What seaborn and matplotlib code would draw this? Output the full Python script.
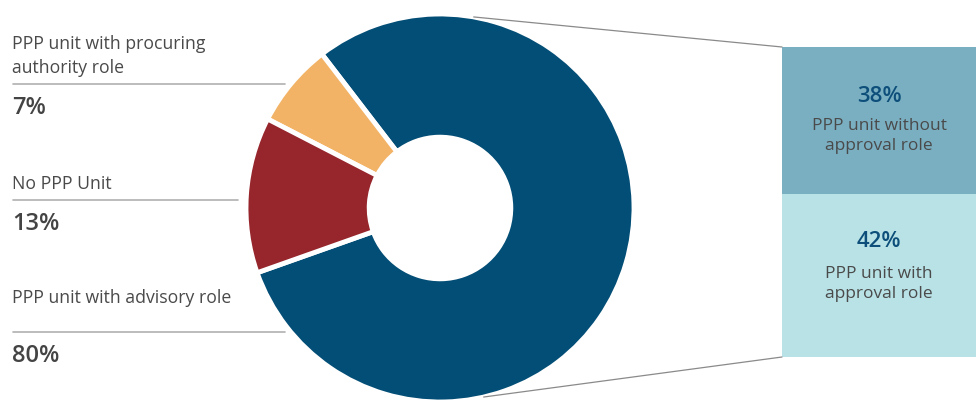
import matplotlib
matplotlib.use("Agg")
import matplotlib.pyplot as plt
from matplotlib.patches import ConnectionPatch
from matplotlib.lines import Line2D
import numpy as np
import seaborn as sns

sns.set_theme(style="white")
plt.rcParams["font.family"] = ["Open Sans", "DejaVu Sans"]

# Donut: PPP unit roles
donut_labels = ["PPP unit with advisory role", "PPP unit with procuring authority role", "No PPP Unit"]
donut_values = [80, 7, 13]
donut_colors = ["#034e76", "#f2b366", "#96252c"]

# Breakdown of the advisory-role share
split_labels = ["PPP unit with\napproval role", "PPP unit without\napproval role"]
split_values = [42, 38]
split_colors = ["#b8e2e6", "#7aafc2"]

W, H = 976, 402
fig = plt.figure(figsize=(W / 100, H / 100), dpi=100)
fig.patch.set_facecolor("white")


def fx(x):
    return x / W


def fy(y):
    return 1 - y / H


# Donut axes
cx, cy, r = 440, 209, 194
ax = fig.add_axes([fx(cx - r), fy(cy + r), 2 * r / W, 2 * r / H])
ax.pie(donut_values, colors=donut_colors, startangle=199.5, counterclock=True,
       radius=1.0, wedgeprops=dict(width=0.635, edgecolor="white", linewidth=3.5))
ax.set_xlim(-1, 1)
ax.set_ylim(-1, 1)
ax.set_aspect("equal")
ax.axis("off")

# Stacked breakdown bar
bx0, bx1, by0, by1 = 782, 976, 48, 358
bax = fig.add_axes([fx(bx0), fy(by1), (bx1 - bx0) / W, (by1 - by0) / H])
bottom = 0
for v, c in zip(split_values, split_colors):
    bax.bar(0, v, bottom=bottom, width=1.0, color=c, linewidth=0)
    bottom += v
bax.set_xlim(-0.5, 0.5)
bax.set_ylim(0, sum(split_values))
bax.axis("off")

# Text inside the breakdown segments (percentage above, description below)
seg_text_y = [(242, 284), (96, 136)]
bcx = (bx0 + bx1) / 2
for v, lab, (py, ly) in zip(split_values, split_labels, seg_text_y):
    fig.text(fx(bcx), fy(py), f"{v}%", ha="center", va="center", fontsize=16,
             fontweight="semibold", color="#0d4f7a")
    fig.text(fx(bcx), fy(ly), lab, ha="center", va="center", fontsize=12.5,
             color="#4a4a4a", linespacing=1.38)

# Connector lines from the donut to the breakdown bar
for ang, yb in [(80, sum(split_values)), (-77, 0)]:
    t = np.deg2rad(ang)
    con = ConnectionPatch(xyA=(np.cos(t), np.sin(t)), coordsA=ax.transData,
                          xyB=(-0.5, yb), coordsB=bax.transData,
                          color="#8a8a8a", linewidth=0.9)
    fig.add_artist(con)

# Left-hand labels
left_items = [
    ("PPP unit with procuring\nauthority role", "7%", 56, 85, 108, 285),
    ("No PPP Unit", "13%", 184, 201, 224, 238),
    ("PPP unit with advisory role", "80%", 298, 333, 356, 285),
]
for lab, pct, ty, ly, py, lx1 in left_items:
    fig.text(fx(12), fy(ty), lab, ha="left", va="center", fontsize=12.7,
             color="#4a4a4a", linespacing=1.38)
    fig.add_artist(Line2D([fx(13), fx(lx1)], [fy(ly), fy(ly)], color="#b0b0b0",
                          linewidth=1.2, transform=fig.transFigure))
    fig.text(fx(12), fy(py), pct, ha="left", va="center", fontsize=17,
             fontweight="semibold", color="#444444")

fig.savefig("out.png", dpi=100, facecolor="white")
